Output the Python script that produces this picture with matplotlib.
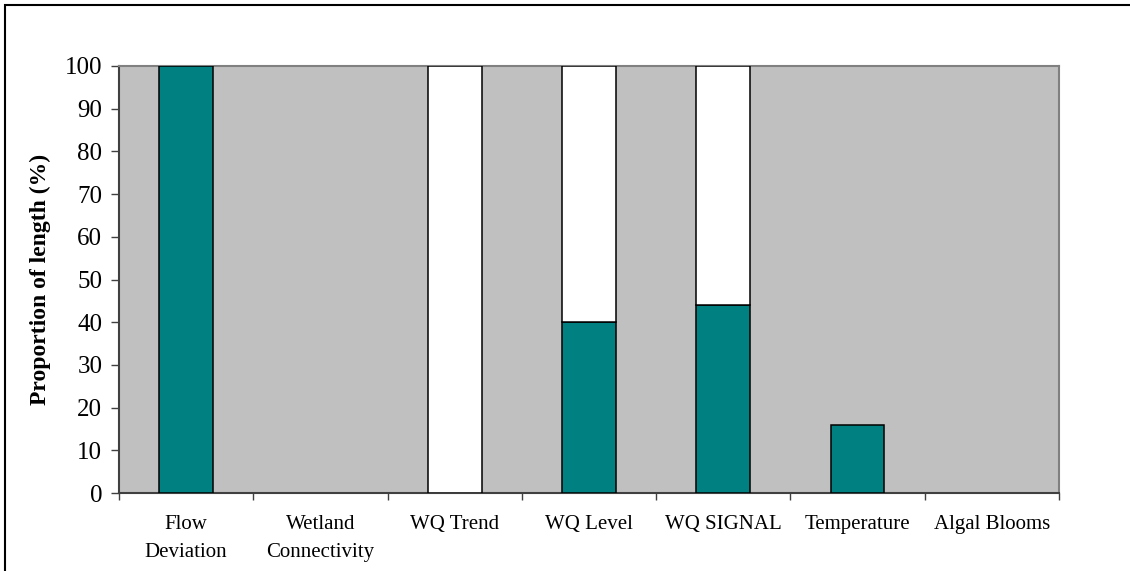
import numpy as np
import matplotlib
matplotlib.use("Agg")
import matplotlib.pyplot as plt
from matplotlib.patches import Rectangle

categories = ["Flow\nDeviation", "Wetland\nConnectivity", "WQ Trend", "WQ Level",
              "WQ SIGNAL", "Temperature", "Algal Blooms"]
teal_vals = np.array([100, 0, 0, 40, 44, 16, 0])
white_vals = np.array([0, 0, 100, 60, 56, 0, 0])
yticks = list(range(0, 101, 10))

plt.rcParams['font.family'] = ['Liberation Serif', 'DejaVu Serif']

fig = plt.figure(figsize=(11.3, 5.71), dpi=100)
W, H = 1130, 571
ax = fig.add_axes([119 / W, 1 - 493 / H, (1059 - 119) / W, (493 - 66) / H])
ax.set_facecolor('#C0C0C0')

x = np.arange(len(categories))
# skip zero-height segments so no stray outline shows on the axis
t = teal_vals > 0
w = white_vals > 0
ax.bar(x[t], teal_vals[t], width=0.4, color='#008080', edgecolor='black', linewidth=1.1, zorder=3)
ax.bar(x[w], white_vals[w], width=0.4, bottom=teal_vals[w], color='white', edgecolor='black',
       linewidth=1.1, zorder=3)

ax.set_xlim(-0.5, len(categories) - 0.5)
ax.set_ylim(0, 100)
ax.set_yticks(yticks)
ax.tick_params(axis='y', labelsize=18, length=6, width=1, color='#404040', pad=6)

ax.set_xticks(x)
ax.set_xticklabels(categories, fontsize=15, linespacing=1.65)
ax.tick_params(axis='x', which='major', length=0, pad=16)
ax.set_xticks(np.arange(-0.5, len(categories)), minor=True)
ax.tick_params(axis='x', which='minor', length=5, width=1, color='#404040')

for s in ['top', 'right']:
    ax.spines[s].set_color('#808080')
    ax.spines[s].set_linewidth(1.5)
for s in ['left', 'bottom']:
    ax.spines[s].set_color('#404040')
    ax.spines[s].set_linewidth(1.5)

ax.set_ylabel("Proportion of length (%)", fontsize=17, fontweight='bold', labelpad=10)

fig.patches.append(Rectangle((5 / W, -0.05), 1.1, 1 - 5 / H + 0.05, transform=fig.transFigure,
                             fill=False, edgecolor='black', linewidth=1.5))

fig.savefig("out.png", dpi=100)
